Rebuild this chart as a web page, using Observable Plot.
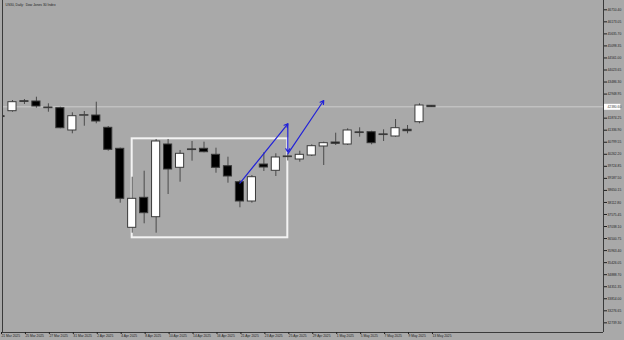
<!DOCTYPE html>
<html>
<head>
<meta charset="utf-8">
<script src="https://cdn.jsdelivr.net/npm/d3@7"></script>
<script src="https://cdn.jsdelivr.net/npm/@observablehq/plot@0.6"></script>
<style>
  html, body { margin: 0; padding: 0; background: #a9a9a9; }
  #chart svg { display: block; }
</style>
</head>
<body>
<div id="chart"></div>
<script>
// ---- data ----
const title = "US30, Daily:  Dow Jones 30 Index";
const candleDates = ["2025-03-21","2025-03-24","2025-03-25","2025-03-26","2025-03-27","2025-03-28","2025-03-31",
  "2025-04-01","2025-04-02","2025-04-03","2025-04-04","2025-04-07","2025-04-08","2025-04-09","2025-04-10","2025-04-11",
  "2025-04-14","2025-04-15","2025-04-16","2025-04-17","2025-04-21","2025-04-22","2025-04-23","2025-04-24","2025-04-25",
  "2025-04-28","2025-04-29","2025-04-30","2025-05-01","2025-05-02","2025-05-05","2025-05-06","2025-05-07","2025-05-08",
  "2025-05-09","2025-05-12","2025-05-13"];
const opens  = [41960,42185,42630,42618,42350,42319,41324,41980,41993,41444,40507,36981,38320,37454,40699,39659,
  40480,40507,40239,39730,39016,38155,39806,39525,40165,40029,40208,40610,40788,40699,41240,41248,41150,41056,41355,41694,42426];
const highs  = [41975,42662,42707,42810,42515,42363,42113,42172,42587,41502,40540,39239,39507,40922,40922,40431,
  40833,40802,40534,40132,39092,39315,40328,40284,40275,40400,40685,40802,41203,41400,41444,41292,41355,41814,41547,42515,42430];
const lows   = [41915,42140,42484,42319,42140,41400,41176,41515,41623,40400,38079,36740,37160,36740,38467,39016,
  39954,40328,39418,38972,37874,38079,39494,39271,39962,39909,40163,39762,40654,40654,41025,40685,40833,41025,41176,41623,42360];
const closes = [41925,42587,42600,42395,42320,41426,41962,42010,41725,40462,38275,38275,37633,40833,39583,40284,
  40450,40355,39659,39271,38155,39239,39672,40119,40135,40239,40623,40757,40730,41324,41210,40757,41120,41426,41292,42439,42364];

const priceTicks = [46710.40,46173.05,45635.70,45098.35,44561.00,44023.65,43486.30,42948.95,
  41874.25,41336.90,40799.55,40262.20,39724.85,39187.50,38650.15,38112.80,37575.45,37038.10,
  36500.75,35963.40,35426.05,34888.70,34351.35,33814.00,33276.65,32739.30];
const currentPrice = 42380.60;

const dateLabelDates = ["2025-03-21","2025-03-25","2025-03-27","2025-03-31","2025-04-02","2025-04-04","2025-04-08",
  "2025-04-10","2025-04-14","2025-04-16","2025-04-21","2025-04-23","2025-04-25","2025-04-29","2025-05-01","2025-05-05",
  "2025-05-07","2025-05-09","2025-05-13"];
const dateLabels = ["21 Mar 2025","25 Mar 2025","27 Mar 2025","31 Mar 2025","2 Apr 2025","4 Apr 2025","8 Apr 2025",
  "10 Apr 2025","14 Apr 2025","16 Apr 2025","21 Apr 2025","23 Apr 2025","25 Apr 2025","29 Apr 2025","1 May 2025",
  "5 May 2025","7 May 2025","9 May 2025","13 May 2025"];

// rectangle object
const boxDates = ["2025-04-07","2025-04-25"];
const boxPrices = [40953, 36535];

// blue arrows
const arrowStartDates = ["2025-04-21","2025-04-25","2025-04-25"];
const arrowStartPrices = [38972, 41623, 40284];
const arrowEndDates = ["2025-04-25","2025-04-25","2025-04-30"];
const arrowEndPrices = [41623, 40355, 42662];

// ---- build ----
const idx = d => candleDates.indexOf(d) - 1; // bar index (Mar 24 = 0)
const candles = candleDates.map((d, k) => ({i: k - 1, open: opens[k], high: highs[k], low: lows[k], close: closes[k]}));
const labelIdx = dateLabelDates.map(idx);
const labelMap = new Map(labelIdx.map((v, k) => [v, dateLabels[k]]));
const arrows = arrowStartDates.map((d, k) => ({x1: idx(d), y1: arrowStartPrices[k], x2: idx(arrowEndDates[k]), y2: arrowEndPrices[k]}));
const box = [{x1: idx(boxDates[0]), x2: idx(boxDates[1]), y1: boxPrices[0], y2: boxPrices[1]}];

const xDomain = [-0.833, 49.37];
const yDomain = [32308.3, 47125.5];
const half = 0.34;
const fs = 3.3;

const chart = Plot.plot({
  width: 624, height: 340,
  marginLeft: 2, marginRight: 21, marginTop: 0, marginBottom: 8,
  style: {background: "#a9a9a9", color: "#1e1e1e", fontFamily: "Liberation Sans, Arial, sans-serif", fontSize: fs + "px"},
  x: {domain: xDomain, axis: null},
  y: {domain: yDomain, axis: null},
  marks: [
    Plot.ruleY([currentPrice], {stroke: "#cdcdcd", strokeWidth: 1}),
    Plot.rect(box, {x1: "x1", x2: "x2", y1: "y1", y2: "y2", fill: "none", stroke: "#f3f3f3", strokeWidth: 2}),
    Plot.ruleX(candles, {x: "i", y1: "low", y2: "high", stroke: "#4a4a4a", strokeWidth: 1, clip: true}),
    Plot.rect(candles, {
      x1: d => d.i - half, x2: d => d.i + half, y1: "open", y2: "close",
      fill: d => d.close >= d.open ? "white" : "black",
      stroke: "#3a3a3a", strokeWidth: 1, clip: true
    }),
    Plot.arrow(arrows, {x1: "x1", y1: "y1", x2: "x2", y2: "y2", stroke: "#2323d8", strokeWidth: 1.2, headLength: 5}),
    Plot.ruleX([xDomain[0]], {stroke: "#3a3a3a"}),
    Plot.ruleX([xDomain[1]], {stroke: "#3a3a3a"}),
    Plot.ruleY([yDomain[0]], {stroke: "#3a3a3a"}),
    Plot.axisY(priceTicks, {anchor: "right", tickSize: 3, tickPadding: 1, label: null, fontSize: fs,
      tickFormat: d => d.toFixed(2)}),
    Plot.axisX(labelIdx, {anchor: "bottom", tickSize: 2, tickPadding: 0.5, label: null, fontSize: fs,
      textAnchor: "start", dx: 1, tickFormat: d => labelMap.get(d)}),
    Plot.ruleY([currentPrice], {x1: () => xDomain[1] + 0.08, x2: () => xDomain[1] + 1.45, stroke: "white", strokeWidth: 6}),
    Plot.text([currentPrice], {x: () => xDomain[1], y: d => d, dx: 4, textAnchor: "start", fontSize: fs,
      fill: "#444", text: d => d.toFixed(2)}),
    Plot.text([title], {frameAnchor: "top-left", dx: 3, dy: 3, textAnchor: "start", lineAnchor: "top",
      fontSize: fs, fill: "#1e1e1e"})
  ]
});
document.getElementById("chart").appendChild(chart);
</script>
</body>
</html>
